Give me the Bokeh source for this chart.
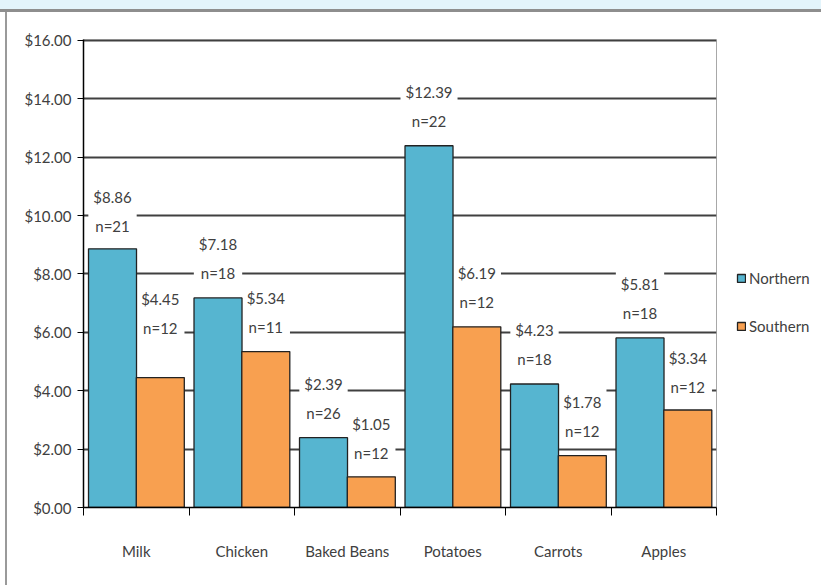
from bokeh.plotting import figure
from bokeh.models import (ColumnDataSource, FixedTicker, Legend, LegendItem, Div,
                          NumeralTickFormatter, Range1d)
from bokeh.layouts import column, row
from bokeh.embed import file_html
from bokeh.resources import INLINE
from bokeh.core.properties import value

categories = ["Milk", "Chicken", "Baked Beans", "Potatoes", "Carrots", "Apples"]
northern = [8.86, 7.18, 2.39, 12.39, 4.23, 5.81]
northern_n = [21, 18, 26, 22, 18, 18]
southern = [4.45, 5.34, 1.05, 6.19, 1.78, 3.34]
southern_n = [12, 11, 12, 12, 12, 12]
y_ticks = [0, 2, 4, 6, 8, 10, 12, 14, 16]

# label lift above each bar, in screen pixels (styling only)
northern_lift = [-9, -11, -11, -11, -11, -11]
southern_lift = [-36, -11, -10, -11, -11, -9]

FONT = "Lato"
TXT = "#404040"
BLUE = "#56B5D0"
ORANGE = "#F8A050"

idx = list(range(len(categories)))
n_src = ColumnDataSource(dict(
    x=[i + 0.275 for i in idx], top=northern, dy=northern_lift,
    label=[f"${v:.2f}\nn={n}" for v, n in zip(northern, northern_n)]))
s_src = ColumnDataSource(dict(
    x=[i + 0.728 for i in idx], top=southern, dy=southern_lift,
    label=[f"${v:.2f}\nn={n}" for v, n in zip(southern, southern_n)]))

p = figure(frame_width=633, frame_height=468, output_backend="svg",
           toolbar_location=None,
           x_range=Range1d(0, len(categories)), y_range=Range1d(0, 16.03),
           min_border_left=76, min_border_right=10, min_border_top=27,
           min_border_bottom=78)
p.background_fill_color = "white"
p.border_fill_color = "white"
p.outline_line_color = "#a8a8a8"
p.outline_line_width = 1

# label boxes first so they mask gridlines but sit under the bars
for src in (n_src, s_src):
    p.text(x="x", y="top", text="label", source=src, text_align="center",
           text_baseline="bottom", y_offset="dy", text_font=value(FONT),
           text_font_size="15px", text_color=TXT, text_line_height=1.6,
           background_fill_color="white", padding=5)

rn = p.vbar(x="x", top="top", width=0.455, source=n_src, fill_color=BLUE,
            line_color="#222222", line_width=1.3)
rs = p.vbar(x="x", top="top", width=0.455, source=s_src, fill_color=ORANGE,
            line_color="#222222", line_width=1.3)

# axes
p.yaxis.ticker = FixedTicker(ticks=y_ticks)
p.yaxis.formatter = NumeralTickFormatter(format="$0.00")
p.yaxis.axis_line_color = "black"
p.yaxis.axis_line_width = 1.5
p.yaxis.major_tick_out = 6
p.yaxis.major_tick_in = 0
p.yaxis.minor_tick_line_color = None
p.yaxis.major_tick_line_color = "black"
p.yaxis.major_label_text_font = FONT
p.yaxis.major_label_text_font_size = "15px"
p.yaxis.major_label_text_color = TXT
p.yaxis.major_label_standoff = 6

p.xaxis.ticker = FixedTicker(ticks=[i + 0.5 for i in idx],
                             minor_ticks=list(range(len(categories) + 1)))
p.xaxis.major_label_overrides = {i + 0.5: c for i, c in zip(idx, categories)}
p.xaxis.major_tick_line_color = None
p.xaxis.major_tick_out = 0
p.xaxis.major_tick_in = 0
p.xaxis.minor_tick_out = 8
p.xaxis.minor_tick_in = 0
p.xaxis.minor_tick_line_color = "black"
p.xaxis.axis_line_color = "black"
p.xaxis.axis_line_width = 1.5
p.xaxis.major_label_text_font = FONT
p.xaxis.major_label_text_font_size = "15px"
p.xaxis.major_label_text_color = TXT
p.xaxis.major_label_standoff = 26

p.xgrid.grid_line_color = None
p.ygrid.grid_line_color = "#404040"
p.ygrid.grid_line_width = 2

legend = Legend(items=[LegendItem(label="Northern", renderers=[rn]),
                       LegendItem(label="Southern", renderers=[rs])],
                location="top_left", glyph_width=10, glyph_height=10,
                spacing=30, label_standoff=3, border_line_color=None,
                background_fill_alpha=0, label_text_font=FONT,
                label_text_font_size="15px", label_text_color=TXT,
                title=" ", title_text_font_size="15px", title_standoff=193,
                padding=10, margin=20)
p.add_layout(legend, "right")

top_div = Div(width=821, height=12, margin=0,
              styles={"background-color": "#E3F4FB",
                      "border-bottom": "3px solid #8E8E8E",
                      "box-sizing": "border-box"})
left_div = Div(width=7, height=573, margin=0,
               styles={"border-right": "2px solid #9A9A9A",
                       "box-sizing": "border-box", "background-color": "white"})
layout = column(top_div, row(left_div, p, margin=0), margin=0)

open("out.html", "w").write(file_html(layout, INLINE))
